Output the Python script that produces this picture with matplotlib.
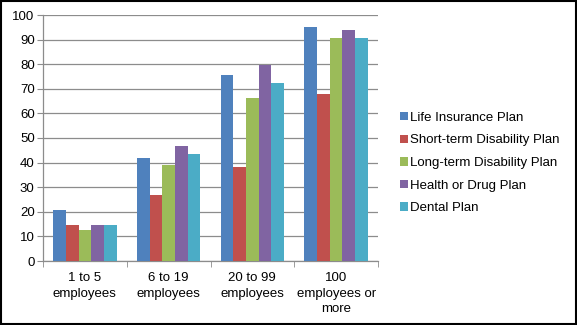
import numpy as np
import matplotlib.pyplot as plt
from matplotlib.patches import Rectangle

plt.rcParams["font.family"] = ["Liberation Sans", "DejaVu Sans"]

categories = ["1 to 5\nemployees", "6 to 19\nemployees", "20 to 99\nemployees", "100\nemployees or\nmore"]
series_names = [
    "Life Insurance Plan",
    "Short-term Disability Plan",
    "Long-term Disability Plan",
    "Health or Drug Plan",
    "Dental Plan",
]
life_insurance = [20.7, 41.9, 75.6, 95.1]
short_term = [14.6, 26.7, 38.3, 67.9]
long_term = [12.8, 39.2, 66.3, 90.7]
health_drug = [14.8, 46.6, 79.5, 93.8]
dental = [14.6, 43.6, 72.4, 90.7]
yticks = [0, 10, 20, 30, 40, 50, 60, 70, 80, 90, 100]

colors = ["#4F81BD", "#C0504D", "#9BBB59", "#8064A2", "#4BACC6"]
values = [life_insurance, short_term, long_term, health_drug, dental]

fig = plt.figure(figsize=(5.77, 3.25), dpi=100)
ax = fig.add_axes([43 / 577, 1 - 261 / 325, (378 - 43) / 577, (261 - 15) / 325])

x = np.arange(len(categories))
n = len(values)
bar_w = 0.76 / n
for i, (vals, col, name) in enumerate(zip(values, colors, series_names)):
    ax.bar(x - 0.38 + bar_w * (i + 0.5), vals, width=bar_w, color=col, label=name, zorder=3)

ax.set_xlim(-0.5, len(categories) - 0.5)
ax.set_ylim(0, 100)
ax.set_yticks(yticks)
ax.yaxis.grid(True, color="#8c8c8c", linewidth=0.9, zorder=0)
ax.tick_params(axis="y", length=4, color="#8c8c8c", labelsize=9.5, pad=2)

# category labels sit between boundary tick marks
ax.set_xticks(x)
ax.set_xticklabels(categories, fontsize=9.5, linespacing=1.4)
ax.tick_params(axis="x", length=0, pad=8)
ax.set_xticks(np.arange(len(categories) + 1) - 0.5, minor=True)
ax.tick_params(axis="x", which="minor", length=4, color="#8c8c8c")

for side in ["top", "right"]:
    ax.spines[side].set_visible(False)
for side in ["left", "bottom"]:
    ax.spines[side].set_color("#8c8c8c")
    ax.spines[side].set_linewidth(0.9)

ax.legend(
    loc="center left",
    bbox_to_anchor=(388 / 577, 1 - 163 / 325),
    bbox_transform=fig.transFigure,
    frameon=False,
    fontsize=9.5,
    handlelength=0.6,
    handleheight=0.6,
    handletextpad=0.2,
    labelspacing=0.8,
)

fig.patches.append(
    Rectangle((0.002, 0.003), 0.996, 0.994, transform=fig.transFigure,
              fill=False, edgecolor="black", linewidth=1.5)
)

fig.savefig("out.png", dpi=100)
